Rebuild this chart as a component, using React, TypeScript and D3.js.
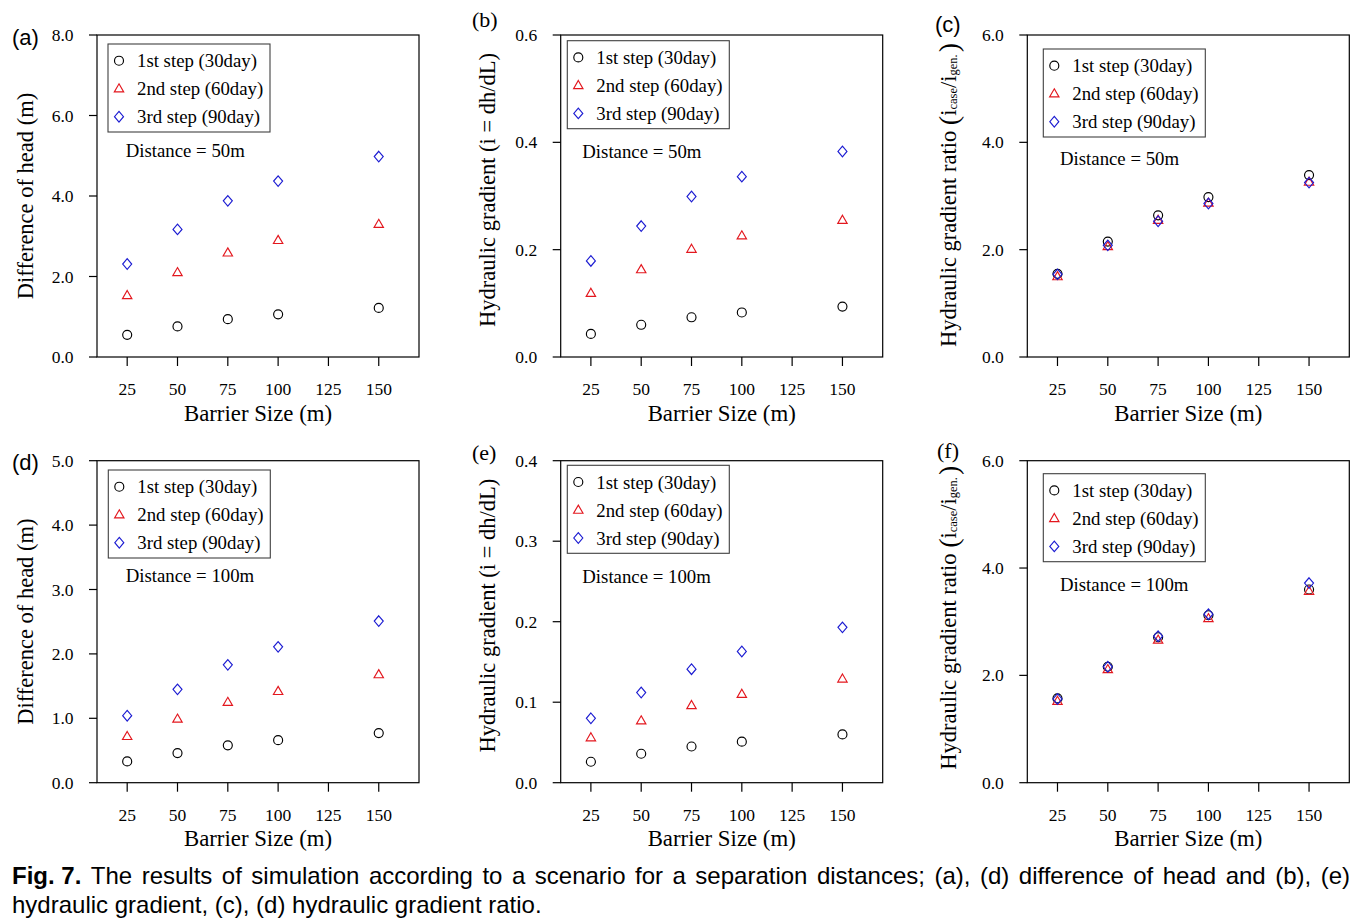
import React, { useEffect, useRef } from "react";
import * as d3 from "d3";

// ---------------- DATA ----------------
const barrierSizes = [25, 50, 75, 100, 150];
const xTickValues = [25, 50, 75, 100, 125, 150];
const stepLabels = ["1st step (30day)", "2nd step (60day)", "3rd step (90day)"];

// (a) Difference of head, distance 50 m
const head50Step1 = [0.55, 0.76, 0.94, 1.06, 1.22];
const head50Step2 = [1.53, 2.1, 2.59, 2.9, 3.3];
const head50Step3 = [2.31, 3.17, 3.88, 4.37, 4.98];
// (b) Hydraulic gradient, distance 50 m
const grad50Step1 = [0.043, 0.06, 0.074, 0.083, 0.094];
const grad50Step2 = [0.119, 0.163, 0.201, 0.226, 0.255];
const grad50Step3 = [0.179, 0.244, 0.299, 0.336, 0.383];
// (c) Hydraulic gradient ratio, distance 50 m
const ratio50Step1 = [1.55, 2.15, 2.64, 2.98, 3.39];
const ratio50Step2 = [1.5, 2.06, 2.55, 2.87, 3.26];
const ratio50Step3 = [1.54, 2.08, 2.53, 2.86, 3.25];
// (d) Difference of head, distance 100 m
const head100Step1 = [0.33, 0.46, 0.58, 0.66, 0.77];
const head100Step2 = [0.72, 0.99, 1.25, 1.42, 1.68];
const head100Step3 = [1.04, 1.45, 1.83, 2.11, 2.51];
// (e) Hydraulic gradient, distance 100 m
const grad100Step1 = [0.026, 0.036, 0.045, 0.051, 0.06];
const grad100Step2 = [0.056, 0.077, 0.096, 0.11, 0.129];
const grad100Step3 = [0.08, 0.112, 0.141, 0.163, 0.193];
// (f) Hydraulic gradient ratio, distance 100 m
const ratio100Step1 = [1.57, 2.16, 2.71, 3.12, 3.6];
const ratio100Step2 = [1.52, 2.11, 2.66, 3.06, 3.57];
const ratio100Step3 = [1.56, 2.16, 2.73, 3.14, 3.72];

const yTicksHead50 = [0, 2, 4, 6, 8];
const yTicksGrad50 = [0, 0.2, 0.4, 0.6];
const yTicksRatio = [0, 2, 4, 6];
const yTicksHead100 = [0, 1, 2, 3, 4, 5];
const yTicksGrad100 = [0, 0.1, 0.2, 0.3, 0.4];

const captionLine1 =
  "The results of simulation according to a scenario for a separation distances; (a), (d) difference of head and (b), (e)";
const captionLine2 = "hydraulic gradient, (c), (d) hydraulic gradient ratio.";

// ---------------- LAYOUT ----------------
const colLeft = [97, 560.7, 1027.3];
const rowTop = [35, 460.7];
const plotW = 322;
const plotH = 322;
const xDomain = [10, 170];

const SERIF = "'Liberation Serif', 'Times New Roman', serif";
const SANS = "'Liberation Sans', Arial, sans-serif";
const RED = "#e3171e";
const BLUE = "#1c1cd2";

type Panel = {
  label: string;
  labelPos: [number, number];
  labelSans: boolean;
  series: number[][];
  yMax: number;
  yTicks: number[];
  yTitle: string;
  ratioTitle?: boolean;
  titleDy: number;
  titleX: number;
  distance: string;
  col: number;
  row: number;
  legendOff: [number, number];
  distOff: [number, number];
};

const panels: Panel[] = [
  { label: "(a)", labelPos: [12, 37], labelSans: true, series: [head50Step1, head50Step2, head50Step3], yMax: 8, yTicks: yTicksHead50, yTitle: "Difference of head (m)", titleDy: 0, titleX: 25, distance: "Distance = 50m", col: 0, row: 0, legendOff: [11, 9], distOff: [28.7, 115] },
  { label: "(b)", labelPos: [472, 19], labelSans: false, series: [grad50Step1, grad50Step2, grad50Step3], yMax: 0.6, yTicks: yTicksGrad50, yTitle: "Hydraulic gradient (i = dh/dL)", titleDy: -6, titleX: 487, distance: "Distance = 50m", col: 1, row: 0, legendOff: [6.6, 5.7], distOff: [21.6, 116.7] },
  { label: "(c)", labelPos: [935, 24], labelSans: true, series: [ratio50Step1, ratio50Step2, ratio50Step3], yMax: 6, yTicks: yTicksRatio, yTitle: "Hydraulic gradient ratio", ratioTitle: true, titleDy: -1, titleX: 948, distance: "Distance = 50m", col: 2, row: 0, legendOff: [16, 14], distOff: [32.7, 123.3] },
  { label: "(d)", labelPos: [12, 462], labelSans: true, series: [head100Step1, head100Step2, head100Step3], yMax: 5, yTicks: yTicksHead100, yTitle: "Difference of head (m)", titleDy: 0, titleX: 25, distance: "Distance = 100m", col: 0, row: 1, legendOff: [11.3, 9.3], distOff: [28.7, 114.3] },
  { label: "(e)", labelPos: [472, 452], labelSans: false, series: [grad100Step1, grad100Step2, grad100Step3], yMax: 0.4, yTicks: yTicksGrad100, yTitle: "Hydraulic gradient (i = dh/dL)", titleDy: -6, titleX: 487, distance: "Distance = 100m", col: 1, row: 1, legendOff: [6.6, 4.6], distOff: [21.6, 116] },
  { label: "(f)", labelPos: [937, 450], labelSans: false, series: [ratio100Step1, ratio100Step2, ratio100Step3], yMax: 6, yTicks: yTicksRatio, yTitle: "Hydraulic gradient ratio", ratioTitle: true, titleDy: -4, titleX: 948, distance: "Distance = 100m", col: 2, row: 1, legendOff: [16, 13], distOff: [32.7, 123.3] },
];

const circlePath = "M4.5,0A4.5,4.5 0 1,1 -4.5,0A4.5,4.5 0 1,1 4.5,0Z";
const trianglePath = "M0,-4.9L4.7,3.2L-4.7,3.2Z";
const diamondPath = "M0,-5.3L4.5,0L0,5.3L-4.5,0Z";
const markerPaths = [circlePath, trianglePath, diamondPath];
const markerColors = ["#000", RED, BLUE];

function Marker({ i, x, y }: { i: number; x: number; y: number }) {
  return (
    <path
      d={markerPaths[i]}
      transform={`translate(${x},${y})`}
      fill="none"
      stroke={markerColors[i]}
      strokeWidth={1.15}
    />
  );
}

function PanelView({ p }: { p: Panel }) {
  const left = colLeft[p.col];
  const top = rowTop[p.row];
  const x = d3.scaleLinear().domain(xDomain).range([left, left + plotW]);
  const y = d3.scaleLinear().domain([0, p.yMax]).range([top + plotH, top]);
  const fmt = d3.format(".1f");
  const bottom = top + plotH;
  const right = left + plotW;
  const lx = left + p.legendOff[0];
  const ly = top + p.legendOff[1];
  const cy = top + plotH / 2 + p.titleDy;
  return (
    <g>
      <rect x={left} y={top} width={plotW} height={plotH} fill="none" stroke="#000" strokeWidth={1.2} />
      {p.yTicks.map((t) => (
        <g key={"y" + t}>
          <line x1={left - 8} x2={left} y1={y(t)} y2={y(t)} stroke="#000" strokeWidth={1.2} />
          <text x={left - 23.5} y={y(t)} textAnchor="end" dominantBaseline="central" fontFamily={SERIF} fontSize={17.5}>
            {fmt(t)}
          </text>
        </g>
      ))}
      {xTickValues.map((t) => (
        <g key={"x" + t}>
          <line x1={x(t)} x2={x(t)} y1={bottom} y2={bottom + 9} stroke="#000" strokeWidth={1.2} />
          <text x={x(t)} y={bottom + 32} textAnchor="middle" dominantBaseline="central" fontFamily={SERIF} fontSize={17.5}>
            {t}
          </text>
        </g>
      ))}
      <text x={(left + right) / 2} y={bottom + 56} textAnchor="middle" dominantBaseline="central" fontFamily={SERIF} fontSize={22.8}>
        Barrier Size (m)
      </text>
      <g transform={`translate(${p.titleX},${cy}) rotate(-90)`}>
        {p.ratioTitle ? (
          <text textAnchor="middle" dominantBaseline="central" fontFamily={SERIF} fontSize={22.5}>
            {p.yTitle + " "}
            <tspan fontSize={28}>(</tspan>
            <tspan>i</tspan>
            <tspan fontSize={12.5} dy={5}>case</tspan>
            <tspan dy={-5}>/i</tspan>
            <tspan fontSize={12.5} dy={5}>gen.</tspan>
            <tspan fontSize={28} dy={-5} dx={2}>)</tspan>
          </text>
        ) : (
          <text textAnchor="middle" dominantBaseline="central" fontFamily={SERIF} fontSize={22.5}>
            {p.yTitle}
          </text>
        )}
      </g>
      <text x={p.labelPos[0]} y={p.labelPos[1]} dominantBaseline="central" fontFamily={p.labelSans ? SANS : SERIF} fontSize={22}>
        {p.label}
      </text>
      <rect x={lx} y={ly} width={162} height={88} fill="#fff" stroke="#404040" strokeWidth={1.1} />
      {stepLabels.map((s, i) => (
        <g key={s}>
          <Marker i={i} x={lx + 11} y={ly + 16.7 + i * 28} />
          <text x={lx + 29} y={ly + 16.7 + i * 28} dominantBaseline="central" fontFamily={SERIF} fontSize={18.8}>
            {s}
          </text>
        </g>
      ))}
      <text x={left + p.distOff[0]} y={top + p.distOff[1]} dominantBaseline="central" fontFamily={SERIF} fontSize={18.8}>
        {p.distance}
      </text>
      {p.series.map((vals, si) =>
        vals.map((v, k) => <Marker key={si + "-" + k} i={si} x={x(barrierSizes[k])} y={y(v)} />)
      )}
    </g>
  );
}

export default function App() {
  const line1Ref = useRef<SVGTextElement | null>(null);
  useEffect(() => {
    if (!line1Ref.current) return;
    const tspans = d3.select(line1Ref.current).selectAll<SVGTSpanElement, unknown>("tspan").nodes();
    const widths = tspans.map((n) => n.getComputedTextLength());
    const total = widths.reduce((a, b) => a + b, 0);
    const x0 = 12;
    const x1 = 1350;
    const gap = (x1 - x0 - total) / (tspans.length - 1);
    let cx = x0;
    tspans.forEach((n, i) => {
      n.setAttribute("x", String(cx));
      cx += widths[i] + gap;
    });
  }, []);
  const words = ["Fig. 7.", ...captionLine1.split(" ")];
  return (
    <svg
      width={1369}
      height={924}
      style={{ position: "absolute", left: 0, top: 0, display: "block", background: "#fff" }}
    >
      <rect x={0} y={0} width={1369} height={924} fill="#fff" />
      {panels.map((p) => (
        <PanelView key={p.label + p.row} p={p} />
      ))}
      <text ref={line1Ref} y={884} fontFamily={SANS} fontSize={24}>
        {words.map((w, i) => (
          <tspan key={i} x={12 + i * 10} fontWeight={i === 0 ? "bold" : "normal"}>
            {w}
          </tspan>
        ))}
      </text>
      <text x={12} y={913} fontFamily={SANS} fontSize={24}>
        {captionLine2}
      </text>
    </svg>
  );
}
